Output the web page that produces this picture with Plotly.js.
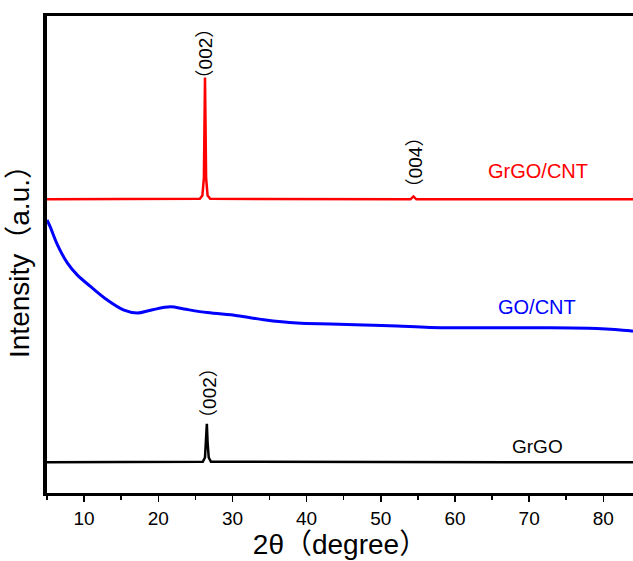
<!DOCTYPE html>
<html>
<head>
<meta charset="utf-8">
<script src="https://cdn.plot.ly/plotly-3.0.1.min.js"></script>
<style>html,body{margin:0;padding:0;background:#fff;}#chart{width:633px;height:561px;}</style>
</head>
<body>
<div id="chart"></div>
<script>
// 2θ (degree) and relative intensity (a.u., offset stacked)
const grgoCntX = [5, 25.6, 25.95, 26.15, 26.25, 26.3, 26.35, 26.45, 26.65, 27.0, 54.0, 54.4, 54.8, 84];
const grgoCntY = [61.6, 61.7, 62.4, 66, 80, 87.0, 80, 66, 62.4, 61.7, 61.6, 62.2, 61.6, 61.6];

const goCntX = [5.0, 5.42, 6.41, 7.76, 9.10, 10.9, 13.14, 15.38, 17.18, 18.97, 21.66, 23.45, 26.6, 30.64, 34.22, 38.7, 43.2, 47.7, 52.2, 56.65, 70.1, 79.1, 83.6, 84];
const goCntY = [57.3, 55.9, 52.1, 48.3, 45.8, 43.4, 40.6, 38.5, 37.9, 38.5, 39.2, 38.75, 38.0, 37.35, 36.5, 35.8, 35.6, 35.4, 35.2, 34.9, 34.85, 34.7, 34.2, 34.1];

const grgoX = [5, 26.0, 26.3, 26.45, 26.55, 26.65, 26.8, 27.1, 84];
const grgoY = [6.8, 6.9, 7.8, 11, 14.8, 11, 7.8, 6.9, 6.8];

const seriesNames = ['GrGO/CNT', 'GO/CNT', 'GrGO'];
const seriesColors = ['#ff0000', '#0000ff', '#000000'];
const peakLabels = ['（002）', '（004）', '（002）'];
const xTickVals = [10, 20, 30, 40, 50, 60, 70, 80];

const FONT = '"Liberation Sans", Arial, "Noto Sans CJK SC", sans-serif';

const traces = [
  {x: grgoCntX, y: grgoCntY, name: seriesNames[0], mode: 'lines', line: {color: seriesColors[0], width: 2.5}},
  {x: goCntX, y: goCntY, name: seriesNames[1], mode: 'lines', line: {color: seriesColors[1], width: 3, shape: 'spline', smoothing: 1}},
  {x: grgoX, y: grgoY, name: seriesNames[2], mode: 'lines', line: {color: seriesColors[2], width: 2.5}}
];

const layout = {
  width: 633, height: 561,
  margin: {l: 47, r: 0, t: 16, b: 68},
  paper_bgcolor: '#fff', plot_bgcolor: '#fff',
  showlegend: false,
  font: {family: FONT, color: '#000'},
  xaxis: {
    range: [5, 84], showgrid: false, zeroline: false,
    showline: true, linecolor: '#000', linewidth: 3, mirror: true,
    ticks: 'outside', ticklen: 6, tickwidth: 1.5, tickcolor: '#000',
    tickvals: xTickVals, ticktext: xTickVals.map(String),
    tickfont: {size: 19, family: FONT, color: '#000'},
    minor: {ticks: 'outside', ticklen: 4, tickwidth: 1.5, tickcolor: '#000', tick0: 5, dtick: 10},
    title: {text: '2θ（degree）', font: {size: 28, family: FONT, color: '#000'}, standoff: 6}
  },
  yaxis: {
    range: [0.4, 99.8], showgrid: false, zeroline: false,
    showline: true, linecolor: '#000', linewidth: 4, mirror: true,
    showticklabels: false, ticks: '',
    title: {text: 'Intensity（a.u.）', font: {size: 28, family: FONT, color: '#000'}, standoff: 6}
  },
  annotations: [
    {x: 26.3, y: 92.0, xref: 'x', yref: 'y', text: peakLabels[0], textangle: -90, showarrow: false,
     font: {size: 19, family: FONT, color: '#000'}},
    {x: 54.6, y: 69.3, xref: 'x', yref: 'y', text: peakLabels[1], textangle: -90, showarrow: false,
     font: {size: 19, family: FONT, color: '#000'}},
    {x: 26.8, y: 21.2, xref: 'x', yref: 'y', text: peakLabels[2], textangle: -90, showarrow: false,
     font: {size: 19, family: FONT, color: '#000'}},
    {x: 71.2, y: 67.6, xref: 'x', yref: 'y', text: seriesNames[0], showarrow: false,
     font: {size: 20, family: FONT, color: seriesColors[0]}},
    {x: 71.1, y: 39.2, xref: 'x', yref: 'y', text: seriesNames[1], showarrow: false,
     font: {size: 20, family: FONT, color: seriesColors[1]}},
    {x: 71.1, y: 10.1, xref: 'x', yref: 'y', text: seriesNames[2], showarrow: false,
     font: {size: 19, family: FONT, color: seriesColors[2]}}
  ]
};

Plotly.newPlot('chart', traces, layout, {displayModeBar: false, staticPlot: true});
</script>
</body>
</html>
